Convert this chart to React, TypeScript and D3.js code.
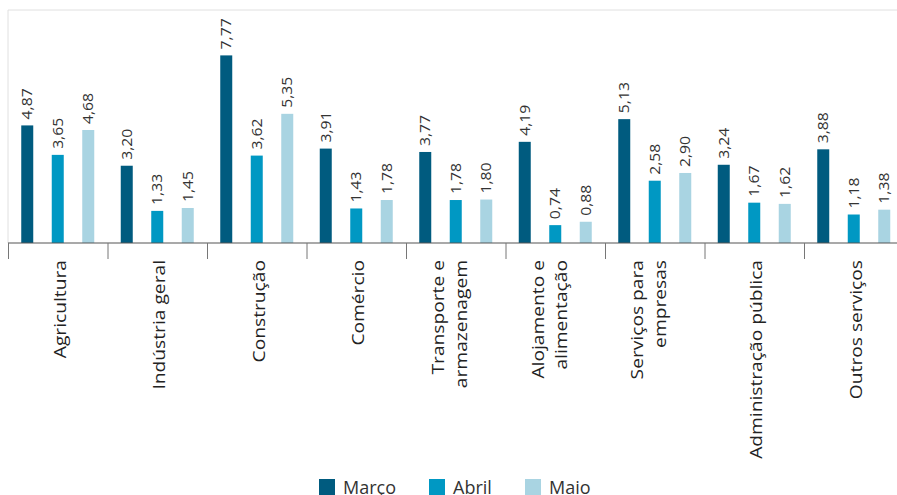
import React from 'react';
import * as d3 from 'd3';

const categories = [
  'Agricultura',
  'Indústria geral',
  'Construção',
  'Comércio',
  'Transporte e\narmazenagem',
  'Alojamento e\nalimentação',
  'Serviços para\nempresas',
  'Administração pública',
  'Outros serviços',
];
const seriesNames = ['Março', 'Abril', 'Maio'];
const marco = [4.87, 3.2, 7.77, 3.91, 3.77, 4.19, 5.13, 3.24, 3.88];
const abril = [3.65, 1.33, 3.62, 1.43, 1.78, 0.74, 2.58, 1.67, 1.18];
const maio = [4.68, 1.45, 5.35, 1.78, 1.8, 0.88, 2.9, 1.62, 1.38];
const seriesValues = [marco, abril, maio];
const colors = ['#005b7f', '#0098c3', '#a9d4e2'];

const W = 897;
const H = 495;
const margin = { top: 10, left: 8, bottom: 243 };
const font = '"Open Sans", "Noto Sans", sans-serif';

export default function App() {
  const x = d3.scaleBand<string>().domain(categories).range([margin.left, 903.5]);
  const inner = d3.scalePoint<string>().domain(seriesNames).range([19.25, 80.25]);
  const y = d3.scaleLinear().domain([0, 9.65]).range([margin.bottom, margin.top]);
  const barW = 12;
  const fmt = (v: number) => d3.format('.2f')(v).replace('.', ',');

  const legendX = [319, 429, 525];

  return (
    <svg
      width={W}
      height={H}
      style={{ position: 'absolute', left: 0, top: 0, background: '#fff' }}
      fontFamily={font}
    >
      {/* frame */}
      <line x1={margin.left} x2={W} y1={margin.top} y2={margin.top} stroke="#e0e0e0" />
      <line x1={margin.left} x2={margin.left} y1={margin.top} y2={margin.bottom} stroke="#e0e0e0" />

      {seriesValues.map((vals, si) =>
        vals.map((v, ci) => {
          const cx = (x(categories[ci]) as number) + (inner(seriesNames[si]) as number);
          const top = y(v);
          return (
            <g key={`${si}-${ci}`}>
              <rect
                x={cx - barW / 2}
                y={top}
                width={barW}
                height={y(0) - top}
                fill={colors[si]}
              />
              <text
                transform={`translate(${cx + 5},${top - 6}) rotate(-90) scale(1.05,1)`}
                fontSize={15}
                fill="#333"
              >
                {fmt(v)}
              </text>
            </g>
          );
        })
      )}

      {/* axis */}
      <line x1={margin.left} x2={W} y1={margin.bottom} y2={margin.bottom} stroke="#555" strokeWidth={1.2} />
      {categories.map((c) => (
        <line
          key={c}
          x1={(x(c) as number) + 0.5}
          x2={(x(c) as number) + 0.5}
          y1={margin.bottom}
          y2={259}
          stroke="#777"
        />
      ))}
      {categories.map((c) => {
        const lines = c.split('\n');
        const center = (x(c) as number) + x.bandwidth() / 2;
        return lines.map((ln, li) => {
          const bx = lines.length === 1 ? center + 8 : center - 11.5 + li * 23;
          return (
            <text
              key={c + li}
              transform={`translate(${bx},260) rotate(-90) scale(1.24,1)`}
              textAnchor="end"
              fontSize={15.5}
              fill="#222"
            >
              {ln}
            </text>
          );
        });
      })}

      {/* legend */}
      {seriesNames.map((s, i) => (
        <g key={s}>
          <rect x={legendX[i]} y={479} width={16} height={16} fill={colors[i]} />
          <text x={legendX[i] + 24} y={494} fontSize={18} fill="#333">
            {s}
          </text>
        </g>
      ))}
    </svg>
  );
}
